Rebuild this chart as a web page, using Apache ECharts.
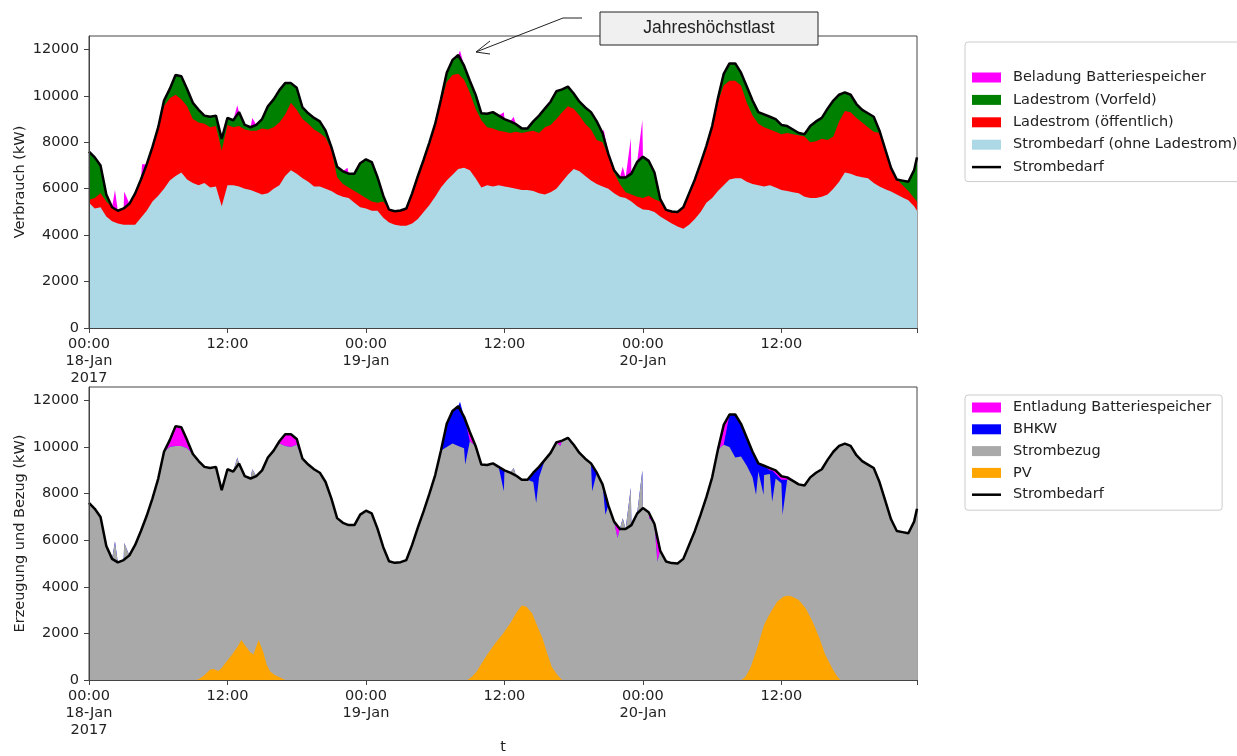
<!DOCTYPE html>
<html>
<head>
<meta charset="utf-8">
<title>Strombedarf 18.-20. Januar 2017</title>
<script src="https://cdn.jsdelivr.net/npm/echarts@6/dist/echarts.min.js"></script>
<style>
  html, body { margin: 0; padding: 0; background: #fff; }
  #chart { width: 1237px; height: 756px; }
</style>
</head>
<body>
<div id="chart"></div>
<script>
// Werte in kW, halbstuendlich ab 18.01.2017 00:00 (letzter Wert 20.01. 23:45)
const strombedarf = [
  7600, 7350, 7000, 5750, 5200, 5050, 5150, 5350, 5800, 6400, 7050, 7800,
  8650, 9800, 10300, 10900, 10850, 10300, 9700, 9400, 9150, 9100, 9150, 8150,
  9050, 8950, 9300, 8750, 8650, 8750, 9000, 9550, 9850, 10250, 10550, 10550,
  10350, 9500, 9250, 9050, 8900, 8500, 7800, 6950, 6750, 6650, 6650, 7100,
  7270, 7150, 6500, 5700, 5100, 5030, 5060, 5150, 5800, 6550, 7250, 8000,
  8800, 9850, 11000, 11550, 11760, 11300, 10650, 10050, 9250, 9230, 9300, 9150,
  9000, 8900, 8780, 8600, 8600, 8900, 9150, 9450, 9750, 10200, 10280, 10400,
  10100, 9750, 9500, 9300, 8900, 8400, 7500, 6800, 6480, 6480, 6650, 7150,
  7380, 7200, 6700, 5550, 5090, 5020, 5000, 5200, 5800, 6400, 7100, 7850,
  8700, 9900, 10950, 11400, 11400, 11000, 10400, 9800, 9300, 9200, 9100, 9000,
  8750, 8700, 8550, 8400, 8350, 8700, 8900, 9050, 9450, 9800, 10050, 10150,
  10050, 9650, 9400, 9250, 9100, 8500, 7700, 6900, 6400, 6350, 6300, 6800,
  7350
];

// Strombedarf ohne Ladestrom (hellblau)
const ohneLadestrom = [
  5400, 5150, 5200, 4800, 4600, 4500, 4450, 4450, 4450, 4750, 5050, 5450,
  5700, 6000, 6350, 6550, 6700, 6400, 6250, 6150, 6250, 6050, 6100, 5250,
  6150, 6150, 6100, 6000, 5950, 5850, 5750, 5800, 6000, 6150, 6550, 6800,
  6650, 6450, 6300, 6100, 6100, 6000, 5900, 5750, 5650, 5600, 5400, 5200,
  5150, 5050, 5050, 4750, 4550, 4450, 4400, 4400, 4500, 4700, 5000, 5300,
  5650, 6050, 6350, 6600, 6850, 6900, 6800, 6450, 6050, 6150, 6100, 6150,
  6100, 6050, 6000, 5950, 5950, 5900, 5800, 5750, 5850, 6000, 6300, 6600,
  6850, 6750, 6550, 6350, 6200, 6100, 6000, 5800, 5650, 5600, 5450, 5250,
  5100, 5080, 5000, 4800, 4650, 4500, 4370, 4280, 4450, 4700, 5000, 5400,
  5600, 5900, 6150, 6400, 6450, 6450, 6300, 6200, 6150, 6100, 6150, 6050,
  5950, 5900, 5850, 5800, 5650, 5600, 5600, 5650, 5750, 6000, 6300, 6700,
  6650, 6550, 6500, 6450, 6250, 6100, 5980, 5880, 5750, 5620, 5500, 5250,
  5050
];

// Oberkante Ladestrom (oeffentlich)
const oeffentlichOben = [
  5520, 5600, 5800, 5450, 5200, 5050, 5150, 5350, 5800, 6400, 7050, 7800,
  8650, 9550, 9900, 10050, 9850, 9550, 9000, 8850, 8800, 8650, 8700, 7650,
  8750, 8650, 8700, 8550, 8500, 8500, 8600, 8550, 8650, 8850, 9200, 9700,
  9400, 9000, 8800, 8550, 8400, 8200, 7700, 6500, 6200, 6050, 5900, 5750,
  5600, 5450, 5400, 5450, 5100, 5030, 5060, 5150, 5800, 6550, 7250, 8000,
  8800, 9700, 10600, 10900, 10950, 10700, 10150, 9450, 8950, 8650, 8600, 8500,
  8460, 8400, 8450, 8400, 8450, 8500, 8400, 8650, 8750, 9000, 9300, 9550,
  9450, 9150, 8800, 8550, 8100, 8000, 7400, 6700, 6200, 5850, 5750, 5650,
  5600, 5700, 5550, 5450, 5090, 5020, 5000, 5200, 5800, 6400, 7100, 7850,
  8700, 9750, 10450, 10650, 10650, 10450, 9700, 9150, 8800, 8650, 8550, 8450,
  8350, 8400, 8350, 8300, 8250, 8000, 8050, 8150, 8100, 8250, 8900, 9350,
  9300, 9050, 8850, 8650, 8450, 8400, 7650, 6900, 6400, 6150, 5900, 5600,
  5450
];

// Oberkante Beladung Batteriespeicher (nur Spitzen ueber dem Strombedarf) [h, kW]
const beladungSpitzen = [
  [2.25, 5950], [3.05, 5880], [4.6, 7050], [12.85, 9600], [14.15, 9050],
  [22.4, 6900], [32.15, 11950], [35.95, 9300], [36.8, 9100], [44.6, 8550],
  [46.25, 6950], [46.95, 8170], [47.95, 8960]
];

// Oberkante Strombezug, wo sie vom Strombedarf abweicht [h, kW]
const bezugPunkte = [
  [2.25, 5950], [3.05, 5880], [7.0, 10000], [7.5, 10050], [8.0, 10050], [8.5, 9950],
  [12.85, 9550], [14.15, 9050], [16.5, 10150], [17.0, 10050], [17.5, 10000], [18.0, 10100],
  [31.0, 10000], [31.5, 10150], [32.0, 10050], [32.5, 9950], [32.6, 9250], [33.0, 10250],
  [35.95, 8100], [36.8, 9100], [38.5, 8500], [38.75, 7600], [39.0, 8700],
  [40.85, 10050], [41.7, 10200], [43.6, 8100], [44.75, 7100], [45.8, 6100],
  [46.25, 6950], [46.95, 8250], [47.95, 9000], [48.55, 6950], [49.25, 5090],
  [55.0, 10100], [55.5, 10000], [56.0, 9550], [56.5, 9600], [57.0, 9200], [57.5, 8700],
  [57.8, 7950], [58.0, 8950], [58.45, 7950], [58.5, 8800], [59.0, 8850], [59.2, 7650],
  [59.5, 8650], [60.0, 8450], [60.1, 7100], [60.5, 8600]
];

// Oberkante BHKW, wo BHKW einspeist [h, kW]
const bhkwOben = [
  [31.0, 11000], [31.5, 11550], [32.0, 11760], [32.15, 11950], [32.5, 11300], [32.6, 11170],
  [35.95, 9010], [38.5, 8900], [38.75, 9030], [39.0, 9150], [43.6, 9220], [44.75, 7950],
  [55.5, 11400], [56.0, 11400], [56.5, 11000], [57.0, 10400], [57.5, 9800], [57.8, 9500],
  [58.0, 9300], [58.45, 9210], [58.5, 9200], [59.0, 9000], [59.2, 9000], [59.5, 8850],
  [60.0, 8600], [60.1, 8600]
];

// PV-Erzeugung [h, kW]
const pv = [
  [9.25, 0], [9.5, 30], [10.0, 200], [10.5, 450], [10.8, 470], [11.2, 390], [11.5, 520],
  [11.8, 720], [12.4, 1100], [12.9, 1450], [13.2, 1720], [13.5, 1500], [13.95, 1200],
  [14.25, 1100], [14.7, 1720], [15.1, 1200], [15.4, 650], [15.7, 360], [16.1, 215],
  [16.7, 70], [17.0, 0],
  [32.8, 0], [33.2, 150], [33.6, 360], [34.0, 700], [34.5, 1080], [35.2, 1580],
  [35.9, 2010], [36.5, 2440], [37.1, 2940], [37.5, 3200], [37.9, 3150], [38.4, 2870],
  [38.8, 2370], [39.3, 1790], [39.7, 1150], [40.1, 570], [40.6, 200], [41.0, 0],
  [56.55, 0], [56.9, 150], [57.3, 500], [57.9, 1360], [58.5, 2370], [59.1, 2940],
  [59.65, 3370], [60.2, 3580], [60.6, 3620], [60.9, 3590], [61.5, 3440], [62.1, 3080],
  [62.7, 2510], [63.3, 1790], [63.8, 1080], [64.4, 500], [64.8, 180], [65.1, 0]
];

const zeitLabels = ['00:00\n18-Jan\n2017', '12:00', '00:00\n19-Jan', '12:00', '00:00\n20-Jan', '12:00'];
const yTicks = [0, 2000, 4000, 6000, 8000, 10000, 12000];

const stunden = strombedarf.map((_, i) => Math.min(i * 0.5, 71.75));
const paare = werte => werte.map((v, i) => [stunden[i], v]);

// Kante einer Flaeche: Grundverlauf, an einzelnen Zeitpunkten ersetzt/ergaenzt
function kante(basis, punkte) {
  const m = new Map(basis);
  punkte.forEach(p => m.set(p[0], p[1]));
  return [...m].sort((a, b) => a[0] - b[0]);
}

const bedarfKante = paare(strombedarf);
const bezugKante = kante(bedarfKante, bezugPunkte);
const bhkwKante = kante(bezugKante, bhkwOben);

const schrift = { fontFamily: 'DejaVu Sans', fontSize: 14.5, color: '#222' };

function xAchse(gridIndex, name) {
  return {
    type: 'value', gridIndex: gridIndex, min: 0, max: 71.75, interval: 12, z: 10,
    axisLine: { lineStyle: { color: '#444' } },
    axisTick: { length: 5, lineStyle: { color: '#444' } },
    axisLabel: Object.assign({ formatter: v => zeitLabels[v / 12] || '', lineHeight: 17, margin: 8 }, schrift),
    splitLine: { show: false },
    name: name, nameLocation: 'middle', nameGap: 60, nameMoveOverlap: false, nameTextStyle: schrift
  };
}

function yAchse(gridIndex, name) {
  return {
    type: 'value', gridIndex: gridIndex, min: 0, max: 12580, z: 10,
    axisLine: { show: true, lineStyle: { color: '#444' } },
    axisTick: { show: true, length: 5, customValues: yTicks, lineStyle: { color: '#444' } },
    axisLabel: Object.assign({ customValues: yTicks, margin: 10, formatter: v => String(v) }, schrift),
    splitLine: { show: false },
    name: name, nameLocation: 'middle', nameGap: 61, nameMoveOverlap: false, nameTextStyle: schrift
  };
}

function flaeche(name, farbe, data, achse) {
  return {
    name: name, type: 'line', data: data, xAxisIndex: achse, yAxisIndex: achse,
    symbol: 'none', silent: true,
    lineStyle: { width: 0, opacity: 0 },
    itemStyle: { color: farbe },
    areaStyle: { color: farbe, opacity: 1 }
  };
}

function linie(achse) {
  return {
    name: 'Strombedarf', type: 'line', data: bedarfKante, xAxisIndex: achse, yAxisIndex: achse,
    symbol: 'none', silent: true, z: 5,
    lineStyle: { color: '#000', width: 2.5 },
    itemStyle: { color: '#000' }
  };
}

const linienIcon = 'path://M0,0H30V2.6H0Z';

function legende(top, namen, padding, gap) {
  return {
    orient: 'vertical', left: 965, top: top, padding: padding, itemGap: gap,
    itemWidth: 29, itemHeight: 10, symbolKeepAspect: true, selectedMode: false,
    borderColor: '#cccccc', borderWidth: 1, borderRadius: 3, backgroundColor: '#fff',
    textStyle: Object.assign({ lineHeight: 14, padding: [0, 0, 0, 7] }, schrift),
    data: namen.map(n => ({ name: n, icon: n === 'Strombedarf' ? linienIcon : 'rect' }))
  };
}

const chart = echarts.init(document.getElementById('chart'), null, { renderer: 'canvas' });

chart.setOption({
  animation: false,
  backgroundColor: '#fff',
  grid: [
    { left: 89, top: 36, width: 828, height: 292, show: true, borderColor: '#444', borderWidth: 1,
      outerBoundsMode: 'none', containLabel: false },
    { left: 89, top: 387, width: 828, height: 293, show: true, borderColor: '#444', borderWidth: 1,
      outerBoundsMode: 'none', containLabel: false }
  ],
  xAxis: [xAchse(0, ''), xAchse(1, 't')],
  yAxis: [yAchse(0, 'Verbrauch (kW)'), yAchse(1, 'Erzeugung und Bezug (kW)')],
  legend: [
    legende(42, ['Beladung Batteriespeicher', 'Ladestrom (Vorfeld)', 'Ladestrom (öffentlich)',
      'Strombedarf (ohne Ladestrom)', 'Strombedarf'], [28, 10, 7, 7], 7.4),
    legende(395, ['Entladung Batteriespeicher', 'BHKW', 'Strombezug', 'PV', 'Strombedarf'],
      [5, 11, 8, 7], 6.8)
  ],
  series: [
    // oben: hinten nach vorne
    flaeche('Beladung Batteriespeicher', '#ff00ff', kante(bedarfKante, beladungSpitzen), 0),
    flaeche('Ladestrom (Vorfeld)', '#008000', bedarfKante, 0),
    flaeche('Ladestrom (öffentlich)', '#ff0000', paare(oeffentlichOben), 0),
    flaeche('Strombedarf (ohne Ladestrom)', '#add8e6', paare(ohneLadestrom), 0),
    linie(0),
    // unten
    flaeche('Entladung Batteriespeicher', '#ff00ff', bedarfKante, 1),
    flaeche('BHKW', '#0000ff', bhkwKante, 1),
    flaeche('Strombezug', '#a9a9a9', bezugKante, 1),
    flaeche('PV', '#ffa500', pv, 1),
    linie(1)
  ],
  graphic: [
    { type: 'rect', z: 100, shape: { x: 600, y: 12, width: 218, height: 33 },
      style: { fill: '#f0f0f0', stroke: '#222', lineWidth: 1 } },
    { type: 'text', z: 101, x: 709, y: 28.5,
      style: { text: 'Jahreshöchstlast', font: '17.5px "Liberation Sans"', fill: '#222',
        align: 'center', verticalAlign: 'middle', textAlign: 'center', textVerticalAlign: 'middle' } },
    { type: 'polyline', z: 100, shape: { points: [[582, 18], [563, 18], [476, 52]] },
      style: { stroke: '#222', lineWidth: 1, fill: null } },
    { type: 'polyline', z: 100, shape: { points: [[490, 41], [476, 52], [490, 54]] },
      style: { stroke: '#222', lineWidth: 1, fill: null } }
  ]
});
</script>
</body>
</html>
